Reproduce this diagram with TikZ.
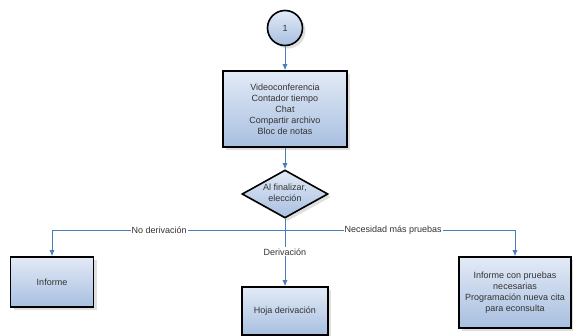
\documentclass[tikz,border=0pt]{standalone}
\usepackage{fontspec}
\setmainfont{Liberation Sans}
\usetikzlibrary{shapes.geometric,shadows,arrows.meta}
\definecolor{linkblue}{HTML}{4A7EBB}
\definecolor{boxtop}{HTML}{E2EAF6}
\definecolor{boxbot}{HTML}{A8BFE0}
\definecolor{txtgrey}{HTML}{333333}
\begin{document}
\begin{tikzpicture}
  [x=1pt,y=-1pt,
   every node/.style={font=\fontsize{9}{11}\selectfont,text=txtgrey,align=center},
   proc/.style={rectangle,draw=black,line width=1.6pt,top color=boxtop,bottom color=boxbot,
     drop shadow={shadow xshift=3pt,shadow yshift=-3pt,fill=black!25}},
   decision/.style={diamond,draw=black,line width=1.6pt,top color=boxtop,bottom color=boxbot,
     minimum width=86pt,minimum height=48pt,inner sep=0pt,
     drop shadow={shadow xshift=3pt,shadow yshift=-3pt,fill=black!25}},
   link/.style={draw=linkblue,line width=0.8pt,-{Latex[length=6pt,width=5pt]}},
   lab/.style={fill=white,inner sep=1pt}]
  \useasboundingbox (0,0) rectangle (573,335);
  \node[proc,circle,minimum size=35pt,inner sep=0pt] (a1) at (285,28) {1};
  \node[proc,minimum width=124pt,minimum height=76pt] (a2) at (285,109)
    {Videoconferencia\\Contador tiempo\\Chat\\Compartir archivo\\Bloc de notas};
  \node[decision] (a3) at (285,194) {};
  \node (a3t) at (285,193) {Al finalizar,\\elección};
  \node[proc,minimum width=83pt,minimum height=50pt] (a4) at (52,282) {Informe};
  \node[proc,minimum width=86pt,minimum height=48pt] (a5) at (285,311) {Hoja derivación};
  \node[proc,minimum width=112pt,minimum height=71pt] (a6) at (515,292.5)
    {Informe con pruebas\\necesarias\\Programación nueva cita\\para econsulta};
  \coordinate (s) at (285,230);

  \draw[link] (a1) -- (a2);
  \draw[link] (a2) -- (a3);
  \draw[link] (a3) -- node[lab,pos=0.49]{Derivación} (a5);
  \draw[link] (s) -- node[lab,pos=0.54]{No derivación} (s -| a4) -- (a4);
  \draw[link] (s) -- node[lab,pos=0.47]{Necesidad más pruebas} (s -| a6) -- (a6);
\end{tikzpicture}
\end{document}
